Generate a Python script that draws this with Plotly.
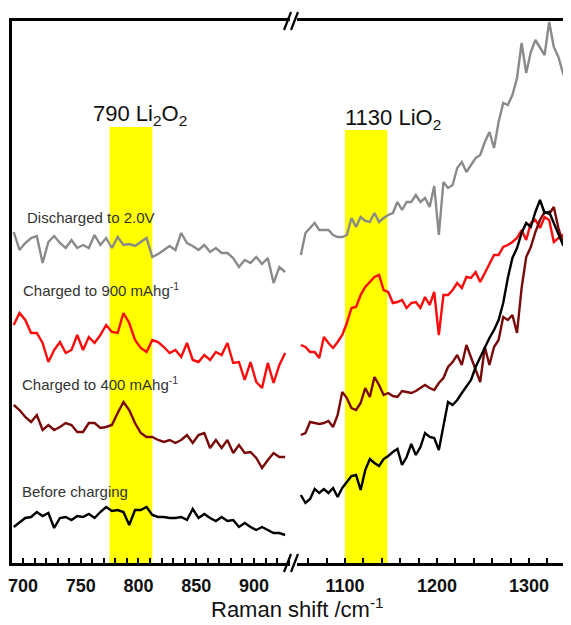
import plotly.graph_objects as go

# Raman shift grids (cm^-1)
left_wn = list(range(692, 928, 5))
right_wn = list(range(1052, 1348, 5))

# Intensities (a.u., offset spectra)
discharged_left = [331,313,320,325,327,300,321,327,320,315,323,315,318,315,328,318,325,315,326,318,319,317,321,325,306,309,313,317,313,330,320,317,313,318,311,315,310,310,305,296,303,300,306,299,305,280,296,291]
charged900_left = [238,250,243,230,230,220,201,213,221,210,213,228,213,226,220,228,238,231,230,250,240,223,215,211,223,221,216,210,213,206,220,203,201,208,203,211,208,220,200,201,183,201,181,175,200,180,198,210]
charged400_left = [158,153,146,141,148,133,138,133,136,140,138,131,131,140,140,135,136,138,150,161,153,140,130,126,126,123,121,123,120,123,128,120,128,130,115,123,115,123,110,118,110,111,105,95,103,110,106,106]
before_left = [36,41,45,46,51,47,50,35,45,46,43,47,46,49,45,51,56,52,53,51,38,53,53,56,48,46,46,45,45,46,43,54,45,49,45,42,46,42,43,36,40,36,33,36,33,30,30,28]

discharged_right = [308,330,335,340,333,333,333,328,326,326,328,345,336,346,342,341,350,341,345,348,350,361,353,361,361,368,361,365,356,377,328,381,375,378,395,401,391,398,405,408,421,431,415,441,460,458,468,485,520,490,511,523,516,508,541,516,506,490,478,481]
charged900_right = [218,216,211,211,205,226,220,215,221,228,240,255,256,268,276,281,286,288,273,271,260,261,263,255,260,261,255,266,258,271,228,268,268,273,280,275,286,285,291,281,290,300,308,308,316,318,321,325,333,323,340,343,335,346,343,321,325,328,306,300]
charged400_right = [128,130,141,140,139,140,142,136,148,171,165,155,153,160,175,166,186,178,168,170,167,166,172,171,170,172,175,178,175,173,180,185,196,201,208,198,218,206,195,181,216,198,216,223,246,243,248,230,275,306,316,331,343,351,349,356,335,320,315,308]
before_right = [68,60,64,74,70,74,70,75,66,75,81,87,88,73,93,104,100,97,104,107,111,114,98,106,119,108,116,130,126,125,113,136,161,158,163,170,176,183,196,206,216,225,233,243,260,285,305,315,330,340,336,351,363,350,351,340,328,318,315,301]

series_names = ["Discharged to 2.0V", "Charged to 900 mAhg<sup>-1</sup>",
                "Charged to 400 mAhg<sup>-1</sup>", "Before charging"]
series_colors = ["#8a8a8a", "#ff0a0a", "#7a0a0a", "#000000"]
left_data = [discharged_left, charged900_left, charged400_left, before_left]
right_data = [discharged_right, charged900_right, charged400_right, before_right]
label_pos = [(702.0, 346), (698.5, 274), (697.0, 180), (697.0, 72)]

band_790 = [775, 812]
band_1130 = [1100, 1146]
left_ticks = [700, 750, 800, 850, 900]
right_ticks = [1100, 1200, 1300]

fig = go.Figure()
for name, col, ld, rd in zip(series_names, series_colors, left_data, right_data):
    fig.add_trace(go.Scatter(x=left_wn, y=ld, mode="lines", name=name,
                             line=dict(color=col, width=2.4), xaxis="x", yaxis="y"))
    fig.add_trace(go.Scatter(x=right_wn, y=rd, mode="lines", name=name, showlegend=False,
                             line=dict(color=col, width=2.4), xaxis="x2", yaxis="y"))

fig.add_shape(type="rect", xref="x", yref="y", x0=band_790[0], x1=band_790[1], y0=0, y1=436,
              fillcolor="#ffff00", line_width=0, layer="below")
fig.add_shape(type="rect", xref="x2", yref="y", x0=band_1130[0], x1=band_1130[1], y0=0, y1=433,
              fillcolor="#ffff00", line_width=0, layer="below")

# axis break marks
W, H = 559.0, 542.0
def px(x): return (x - 12) / W
def py(y): return (563 - y) / H
for (ya, yb) in [(30, 12), (572, 554)]:
    for xs in (284, 291):
        fig.add_shape(type="line", xref="paper", yref="paper",
                      x0=px(xs), y0=py(ya), x1=px(xs + 7), y1=py(yb),
                      line=dict(color="black", width=2.2))

font_fam = "Arial, Liberation Sans, sans-serif"
for (name, (lx, ly)) in zip(series_names, label_pos):
    fig.add_annotation(x=lx, y=ly, xref="x", yref="y", text=name, showarrow=False,
                       xanchor="left", yanchor="middle",
                       font=dict(family=font_fam, size=15, color="#333333"))

fig.add_annotation(x=801, y=448, xref="x", yref="y", text="790 Li<sub>2</sub>O<sub>2</sub>",
                   showarrow=False, xanchor="center", yanchor="middle",
                   font=dict(family=font_fam, size=22, color="#111111"))
fig.add_annotation(x=1152, y=444, xref="x2", yref="y", text="1130 LiO<sub>2</sub>",
                   showarrow=False, xanchor="center", yanchor="middle",
                   font=dict(family=font_fam, size=22, color="#111111"))

axis_common = dict(showline=True, linecolor="black", linewidth=2.5, mirror=True,
                   showgrid=False, zeroline=False, ticks="inside", ticklen=5,
                   tickwidth=2, tickcolor="black",
                   tickfont=dict(family=font_fam, size=18, color="#111111", weight="bold"),
                   ticklabelstandoff=5, ticklabeloverflow="allow")
# page body has an 8px default margin, so the figure is 8px smaller than the window
fig.update_layout(
    width=563, height=617,
    margin=dict(l=4, r=0, t=13, b=62),
    paper_bgcolor="white", plot_bgcolor="white",
    showlegend=False,
    xaxis=dict(domain=[0, px(290)], range=[690.5, 931.2], tickvals=left_ticks,
               minor=dict(dtick=10, tick0=700, ticks="inside", ticklen=5, tickwidth=2,
                          tickcolor="black"),
               **axis_common),
    xaxis2=dict(domain=[px(297), 1], range=[1047.8, 1345.7], tickvals=right_ticks,
                anchor="y",
                minor=dict(dtick=20, tick0=1100, ticks="inside", ticklen=5, tickwidth=2,
                           tickcolor="black"),
                **axis_common),
    yaxis=dict(range=[0, 542], showline=True, linecolor="black", linewidth=2.5,
               showticklabels=False, ticks="", showgrid=False, zeroline=False),
)
fig.add_annotation(x=px(297), y=-0.083, xref="paper", yref="paper",
                   text="Raman shift /cm<sup>-1</sup>", showarrow=False,
                   xanchor="center", yanchor="middle",
                   font=dict(family=font_fam, size=22, color="#111111"))

fig.write_html("out.html")
